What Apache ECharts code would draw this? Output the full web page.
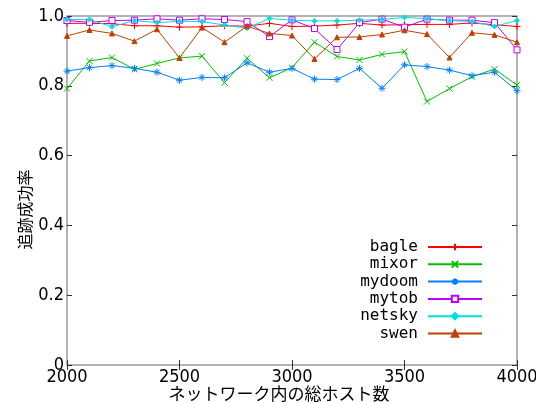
<!DOCTYPE html>
<html>
<head>
<meta charset="utf-8">
<script src="https://cdn.jsdelivr.net/npm/echarts@6/dist/echarts.min.js"></script>
<style>
  html, body { margin: 0; padding: 0; background: #fff; }
  #chart { width: 536px; height: 403px; }
</style>
</head>
<body>
<div id="chart"></div>
<script>
// ネットワーク内の総ホスト数
var hostCounts = [2000, 2100, 2200, 2300, 2400, 2500, 2600, 2700, 2800, 2900, 3000,
  3100, 3200, 3300, 3400, 3500, 3600, 3700, 3800, 3900, 4000]

var bagle = [0.979, 0.979, 0.978, 0.972, 0.972, 0.968, 0.969, 0.972, 0.971, 0.979, 0.970,
  0.971, 0.974, 0.979, 0.974, 0.975, 0.976, 0.976, 0.980, 0.975, 0.970]
var mixor = [0.792, 0.871, 0.881, 0.847, 0.864, 0.880, 0.885, 0.809, 0.879, 0.823, 0.852,
  0.925, 0.884, 0.874, 0.890, 0.898, 0.755, 0.792, 0.826, 0.848, 0.802]
var mydoom = [0.842, 0.852, 0.858, 0.850, 0.839, 0.816, 0.824, 0.823, 0.866, 0.839, 0.850,
  0.819, 0.818, 0.850, 0.793, 0.860, 0.855, 0.845, 0.829, 0.839, 0.786]
var mytob = [0.987, 0.982, 0.987, 0.988, 0.992, 0.988, 0.992, 0.990, 0.984, 0.941, 0.989,
  0.964, 0.904, 0.981, 0.991, 0.968, 0.991, 0.988, 0.988, 0.981, 0.903]
var netsky = [0.990, 0.990, 0.969, 0.987, 0.981, 0.985, 0.984, 0.974, 0.965, 0.993, 0.988,
  0.986, 0.986, 0.988, 0.990, 0.996, 0.992, 0.987, 0.984, 0.970, 0.987]
var swen = [0.943, 0.960, 0.950, 0.928, 0.962, 0.880, 0.967, 0.925, 0.971, 0.950, 0.944,
  0.877, 0.939, 0.940, 0.947, 0.959, 0.948, 0.881, 0.952, 0.946, 0.925]

var xTicks = [2000, 2500, 3000, 3500, 4000]
var yTickLabels = ['0', '0.2', '0.4', '0.6', '0.8', '1.0']

var labelFont = "'Liberation Sans Narrow', 'DejaVu Sans Condensed', 'Liberation Sans', sans-serif"

function pairs(vals) {
  return hostCounts.map(function (h, i) { return [h, vals[i]] })
}

function makeSeries(name, vals, color, symbol, size, fill) {
  return {
    name: name,
    type: 'line',
    data: pairs(vals),
    symbol: symbol,
    symbolSize: size,
    showSymbol: true,
    animation: false,
    lineStyle: { color: color, width: 1 },
    itemStyle: { color: fill || color, borderColor: color, borderWidth: 1 },
    emphasis: { disabled: true }
  }
}

var chart = echarts.init(document.getElementById('chart'))

chart.setOption({
  backgroundColor: '#fff',
  animation: false,
  grid: {
    left: 67, right: 19, top: 16, bottom: 38,
    outerBoundsMode: 'none',
    containLabel: false,
    show: true, borderColor: '#9a9a9a', borderWidth: 1.5
  },
  legend: {
    orient: 'vertical',
    align: 'right',
    right: 53,
    top: 239,
    padding: 0,
    itemWidth: 54,
    itemHeight: 8,
    itemGap: 1.3,
    data: ['bagle', 'mixor', 'mydoom', 'mytob', 'netsky', 'swen'],
    textStyle: {
      fontFamily: "'DejaVu Sans Mono', monospace",
      fontSize: 16,
      color: '#000',
      padding: [0, 5, 0, 0]
    }
  },
  xAxis: [{
    type: 'value',
    min: 2000, max: 4000, interval: 500,
    name: 'ネットワーク内の総ホスト数',
    nameLocation: 'middle',
    nameMoveOverlap: false,
    nameGap: 20,
    nameTextStyle: {
      fontFamily: "'Noto Sans CJK JP', sans-serif",
      fontSize: 17, color: '#000',
      padding: [0, 26, 0, 0]
    },
    axisLine: { show: false },
    axisTick: { inside: true, length: 5, lineStyle: { color: '#333' } },
    axisLabel: {
      fontFamily: labelFont, fontSize: 18, color: '#000', margin: 3,
      formatter: function (v) { return xTicks.indexOf(v) >= 0 ? String(v) : '' }
    },
    splitLine: { show: false }
  }, {
    type: 'value',
    position: 'top',
    min: 2000, max: 4000, interval: 500,
    axisLine: { show: false },
    axisTick: { inside: true, length: 5, lineStyle: { color: '#333' } },
    axisLabel: { show: false },
    splitLine: { show: false }
  }],
  yAxis: [{
    type: 'value',
    min: 0, max: 1, interval: 0.2,
    name: '追跡成功率',
    nameLocation: 'middle',
    nameMoveOverlap: false,
    nameGap: 34,
    nameTextStyle: {
      fontFamily: "'Noto Sans CJK JP', sans-serif",
      fontSize: 16, color: '#000',
      padding: [0, 38, 0, 0]
    },
    axisLine: { show: false },
    axisTick: { inside: true, length: 5, lineStyle: { color: '#333' } },
    axisLabel: {
      fontFamily: labelFont, fontSize: 18, color: '#000', margin: 3,
      formatter: function (v) { return yTickLabels[Math.round(v / 0.2)] }
    },
    splitLine: { show: false }
  }, {
    type: 'value',
    position: 'right',
    min: 0, max: 1, interval: 0.2,
    axisLine: { show: false },
    axisTick: { inside: true, length: 5, lineStyle: { color: '#333' } },
    axisLabel: { show: false },
    splitLine: { show: false }
  }],
  series: [
    makeSeries('bagle', bagle, '#ff0000', 'path://M0,5L10,5M5,0L5,10', 7),
    makeSeries('mixor', mixor, '#00c000', 'path://M0,0L10,10M0,10L10,0', 6),
    makeSeries('mydoom', mydoom, '#0080ff', 'path://M0,5L10,5M5,0L5,10M1.5,1.5L8.5,8.5M1.5,8.5L8.5,1.5', 7),
    makeSeries('mytob', mytob, '#c000ff', 'path://M0,0L10,0L10,10L0,10Z', 6, '#fff'),
    makeSeries('netsky', netsky, '#00e0e0', 'diamond', 5),
    makeSeries('swen', swen, '#c04000', 'triangle', 5)
  ]
})
</script>
</body>
</html>
